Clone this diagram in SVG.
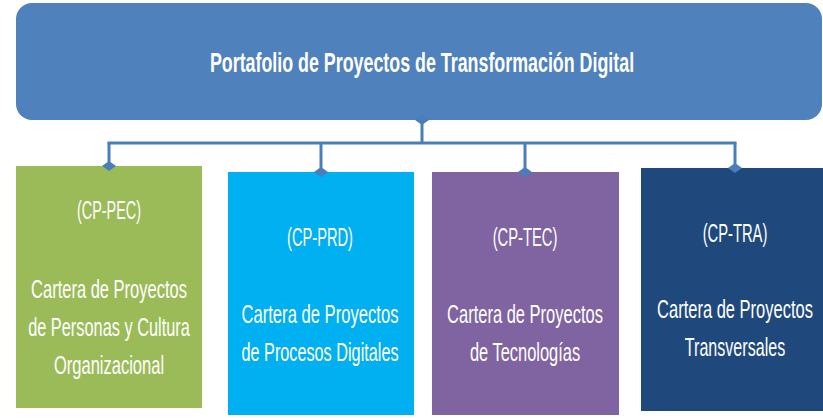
<svg xmlns="http://www.w3.org/2000/svg" width="823" height="418" viewBox="0 0 823 418">
<defs>
<marker id="dia" viewBox="0 0 10 14" refX="5" refY="7" markerWidth="10" markerHeight="14" markerUnits="userSpaceOnUse" orient="auto-start-reverse">
<path d="M5,0 L10,7 L5,14 L0,7 Z" fill="#4A7EBB"/>
</marker>
<style>
.t{font-family:"Liberation Sans",Arial,sans-serif;fill:#fff;text-anchor:middle}
.title{font-size:28px;font-weight:bold}
.b{font-size:25px}
.c{fill:none;stroke:#4A7EBB;stroke-width:3}
</style>
</defs>
<rect width="823" height="418" fill="#fff"/>
<g id="root">
<rect x="16" y="3" width="806" height="117" rx="16" fill="#4F81BD"/>
<text class="t title" transform="translate(422,72) scale(0.7,1)" textLength="606" lengthAdjust="spacingAndGlyphs">Portafolio de Proyectos de Transformación Digital</text>
</g>
<g id="pec">
<rect x="16" y="166" width="186" height="242" fill="#9BBB59"/>
<text class="t b" transform="translate(109,219) scale(0.66,1)" textLength="97" lengthAdjust="spacingAndGlyphs">(CP-PEC)</text>
<text class="t b" transform="translate(109,298) scale(0.66,1)" textLength="236" lengthAdjust="spacingAndGlyphs">Cartera de Proyectos</text>
<text class="t b" transform="translate(109,336) scale(0.66,1)" textLength="245" lengthAdjust="spacingAndGlyphs">de Personas y Cultura</text>
<text class="t b" transform="translate(109,374) scale(0.66,1)" textLength="167" lengthAdjust="spacingAndGlyphs">Organizacional</text>
</g>
<g id="prd">
<rect x="228" y="172" width="186" height="243" fill="#00B0F0"/>
<text class="t b" transform="translate(320,246) scale(0.66,1)" textLength="100" lengthAdjust="spacingAndGlyphs">(CP-PRD)</text>
<text class="t b" transform="translate(320,323) scale(0.66,1)" textLength="238" lengthAdjust="spacingAndGlyphs">Cartera de Proyectos</text>
<text class="t b" transform="translate(320,361) scale(0.66,1)" textLength="238" lengthAdjust="spacingAndGlyphs">de Procesos Digitales</text>
</g>
<g id="tec">
<rect x="432" y="172" width="187" height="243" fill="#8064A2"/>
<text class="t b" transform="translate(525,246) scale(0.66,1)" textLength="98" lengthAdjust="spacingAndGlyphs">(CP-TEC)</text>
<text class="t b" transform="translate(525,323) scale(0.66,1)" textLength="236" lengthAdjust="spacingAndGlyphs">Cartera de Proyectos</text>
<text class="t b" transform="translate(525,361) scale(0.66,1)" textLength="167" lengthAdjust="spacingAndGlyphs">de Tecnologías</text>
</g>
<g id="tra">
<rect x="641" y="168" width="182" height="243" fill="#1F497D"/>
<text class="t b" transform="translate(735,242) scale(0.66,1)" textLength="98" lengthAdjust="spacingAndGlyphs">(CP-TRA)</text>
<text class="t b" transform="translate(735,318) scale(0.66,1)" textLength="236" lengthAdjust="spacingAndGlyphs">Cartera de Proyectos</text>
<text class="t b" transform="translate(735,356) scale(0.66,1)" textLength="152" lengthAdjust="spacingAndGlyphs">Transversales</text>
</g>
<g id="connectors">
<path class="c" d="M422,120 V143" marker-start="url(#dia)"/>
<path class="c" d="M107.5,143 H736.5" stroke-width="4"/>
<path class="c" d="M109,143 V166" marker-end="url(#dia)"/>
<path class="c" d="M321,143 V172" marker-end="url(#dia)"/>
<path class="c" d="M525,143 V172" marker-end="url(#dia)"/>
<path class="c" d="M735,143 V168" marker-end="url(#dia)"/>
</g>
</svg>
